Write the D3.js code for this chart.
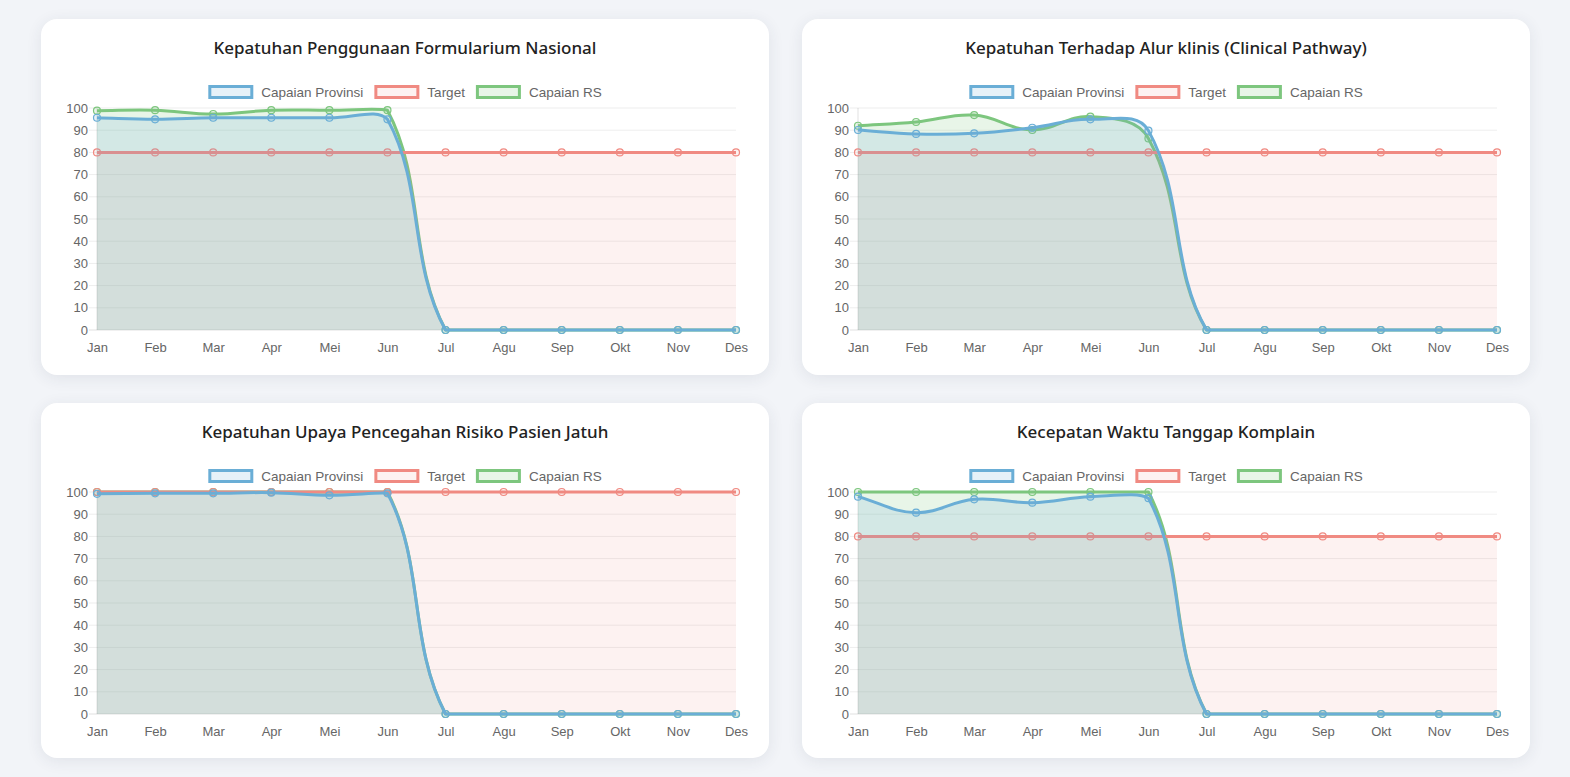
<!DOCTYPE html>
<html><head><meta charset="utf-8">
<script src="https://cdn.jsdelivr.net/npm/d3@7"></script>
<style>
html,body{margin:0;padding:0;}
body{background:#f2f4f8;width:1570px;height:777px;overflow:hidden;position:relative;font-family:"Liberation Sans",Arial,sans-serif;}
.card{position:absolute;background:#fff;border-radius:16px;box-shadow:0 3px 16px rgba(40,50,80,0.09);}
.card svg{position:absolute;left:0;top:0;}
</style></head><body>
<script>
// ---- data ----
const months = ["Jan","Feb","Mar","Apr","Mei","Jun","Jul","Agu","Sep","Okt","Nov","Des"];
const yTicks = [0,10,20,30,40,50,60,70,80,90,100];
const seriesNames = ["Capaian Provinsi","Target","Capaian RS"];

const titles = [
  "Kepatuhan Penggunaan Formularium Nasional",
  "Kepatuhan Terhadap Alur klinis (Clinical Pathway)",
  "Kepatuhan Upaya Pencegahan Risiko Pasien Jatuh",
  "Kecepatan Waktu Tanggap Komplain"
];

const provFornas = [95.6,94.9,95.6,95.6,95.6,94.9,0,0,0,0,0,0];
const targetFornas = [80,80,80,80,80,80,80,80,80,80,80,80];
const rsFornas = [98.8,99,97.3,99,99,99,0,0,0,0,0,0];

const provCP = [90.1,88.3,88.6,91.1,94.9,89.8,0,0,0,0,0,0];
const targetCP = [80,80,80,80,80,80,80,80,80,80,80,80];
const rsCP = [92,93.7,96.8,90.1,96.1,86.3,0,0,0,0,0,0];

const provJatuh = [99.2,99.4,99.4,99.7,98.5,99.4,0,0,0,0,0,0];
const targetJatuh = [100,100,100,100,100,100,100,100,100,100,100,100];
const rsJatuh = [100,100,100,100,100,100,0,0,0,0,0,0];

const provKomplain = [97.9,90.7,96.7,95.2,97.9,97.2,0,0,0,0,0,0];
const targetKomplain = [80,80,80,80,80,80,80,80,80,80,80,80];
const rsKomplain = [100,100,100,100,100,100,0,0,0,0,0,0];

const chartData = [
  [provFornas,targetFornas,rsFornas],
  [provCP,targetCP,rsCP],
  [provJatuh,targetJatuh,rsJatuh],
  [provKomplain,targetKomplain,rsKomplain]
];

// ---- styles ----
const lineColors = ["#6aaed6","#f08a82","#7dc67e"];
const fillColors = ["rgba(106,174,214,0.17)","rgba(240,138,130,0.11)","rgba(125,198,126,0.18)"];

const cards = [
  {left:41,top:19,w:728,h:356},
  {left:802,top:19,w:728,h:356},
  {left:41,top:403,w:728,h:355},
  {left:802,top:403,w:728,h:355}
];

function splinePts(pts, area, t){
  return pts.map((p,i)=>{
    const prev = pts[i-1]||p, next = pts[i+1]||p;
    const d01 = Math.hypot(p.x-prev.x,p.y-prev.y), d12 = Math.hypot(next.x-p.x,next.y-p.y);
    let s01 = d01/(d01+d12), s12 = d12/(d01+d12);
    if (isNaN(s01)) s01=0; if (isNaN(s12)) s12=0;
    const fa=t*s01, fb=t*s12;
    const cl=(v,a,b)=>Math.max(a,Math.min(b,v));
    return {
      c1x: cl(p.x-fa*(next.x-prev.x),area.l,area.r), c1y: cl(p.y-fa*(next.y-prev.y),area.t,area.b),
      c2x: cl(p.x+fb*(next.x-prev.x),area.l,area.r), c2y: cl(p.y+fb*(next.y-prev.y),area.t,area.b)
    };
  });
}
function buildPath(pts, area, closeY){
  const cps = splinePts(pts, area, 0.4);
  const p = d3.path();
  p.moveTo(pts[0].x, pts[0].y);
  for (let i=1;i<pts.length;i++){
    p.bezierCurveTo(cps[i-1].c2x,cps[i-1].c2y,cps[i].c1x,cps[i].c1y,pts[i].x,pts[i].y);
  }
  if (closeY!==undefined){
    p.lineTo(pts[pts.length-1].x, closeY);
    p.lineTo(pts[0].x, closeY);
    p.closePath();
  }
  return p.toString();
}

cards.forEach((c,ci)=>{
  const div = d3.select("body").append("div").attr("class","card")
    .style("left",c.left+"px").style("top",c.top+"px")
    .style("width",c.w+"px").style("height",c.h+"px");
  const svg = div.append("svg").attr("width",c.w).attr("height",c.h);

  const x = d3.scalePoint().domain(months).range([56,695]);
  const y = d3.scaleLinear().domain([0,100]).range([311,89]);
  const area = {l:56,r:695,t:89,b:311};

  // title
  svg.append("text").attr("x",c.w/2).attr("y",35).attr("text-anchor","middle")
    .attr("font-family","'Noto Sans','Open Sans',sans-serif").attr("font-weight",500)
    .attr("font-size",17).attr("fill","#222").text(titles[ci]);

  // legend
  const lg = svg.append("g");
  let lx = 0;
  seriesNames.forEach((n,i)=>{
    const g = lg.append("g").attr("transform",`translate(${lx},0)`);
    g.append("rect").attr("x",1.5).attr("y",-5.5).attr("width",42).attr("height",11)
      .attr("fill",fillColors[i]).attr("stroke",lineColors[i]).attr("stroke-width",3);
    const t = g.append("text").attr("x",53).attr("y",4.5).attr("font-size",13.5).attr("fill","#666").text(n);
    lx += 53 + t.node().getComputedTextLength() + 11;
  });
  lx -= 11;
  lg.attr("transform",`translate(${(c.w-lx)/2},73)`);

  // grid
  const gg = svg.append("g");
  gg.selectAll("line.g").data(yTicks).join("line")
    .attr("x1",48).attr("x2",695).attr("y1",d=>y(d)).attr("y2",d=>y(d))
    .attr("stroke",d=>d===0?"rgba(0,0,0,0.12)":"rgba(0,0,0,0.07)").attr("stroke-width",1);
  gg.append("line").attr("x1",56).attr("x2",56).attr("y1",89).attr("y2",311)
    .attr("stroke","rgba(0,0,0,0.12)");

  // y axis labels
  const ya = svg.append("g").attr("transform","translate(47,0)")
    .call(d3.axisLeft(y).tickValues(yTicks).tickSize(0).tickPadding(0));
  ya.select(".domain").remove();
  ya.selectAll("text").attr("font-size",13).attr("fill","#666").attr("font-family","'Liberation Sans',Arial,sans-serif");

  const xa = svg.append("g").attr("transform","translate(0,320)")
    .call(d3.axisBottom(x).tickSize(0).tickPadding(4));
  xa.select(".domain").remove();
  xa.selectAll("text").attr("font-size",13).attr("fill","#666").attr("font-family","'Liberation Sans',Arial,sans-serif");

  // datasets drawn in reverse order (index 0 on top)
  const data = chartData[ci];
  for (let si=data.length-1; si>=0; si--){
    const pts = data[si].map((v,i)=>({x:x(months[i]), y:y(v)}));
    svg.append("path").attr("d",buildPath(pts,area,y(0))).attr("fill",fillColors[si]).attr("stroke","none");
    svg.append("path").attr("d",buildPath(pts,area)).attr("fill","none")
      .attr("stroke",lineColors[si]).attr("stroke-width",3).attr("stroke-linejoin","round");
    svg.append("g").selectAll("circle").data(pts).join("circle")
      .attr("cx",d=>d.x).attr("cy",d=>d.y).attr("r",3.5)
      .attr("fill",fillColors[si]).attr("stroke",lineColors[si]).attr("stroke-width",1.2);
  }
});
</script>
</body></html>
